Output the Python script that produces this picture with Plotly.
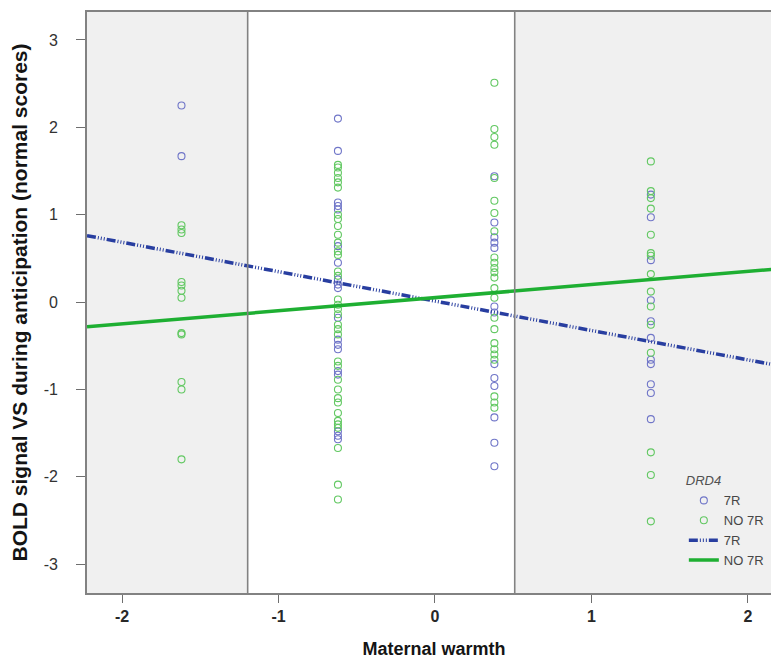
import plotly.graph_objects as go

# ---- data ----
x_levels = [-1.62, -0.62, 0.38, 1.38]

blue_col1 = [2.25, 1.67]
green_col1 = [0.88, 0.83, 0.79, 0.23, 0.19, 0.13, 0.05, -0.355, -0.37, -0.915, -1.0, -1.80]

blue_col2 = [2.10, 1.73, 1.14, 1.10, 1.06, 0.64, 0.45, 0.26, 0.20, 0.16, -0.18,
             -0.43, -0.49, -0.54, -0.79, -0.83, -1.48, -1.53, -1.57]
green_col2 = [1.57, 1.54, 1.48, 1.42, 1.37, 1.31, 1.0, 0.95, 0.87, 0.77, 0.68, 0.58, 0.54,
              0.35, 0.30, 0.03, -0.03, -0.08, -0.14, -0.26, -0.31, -0.37, -0.68, -0.73,
              -0.89, -1.0, -1.10, -1.15, -1.27, -1.36, -1.40, -1.44, -1.67, -2.09, -2.26]

blue_col3 = [1.44, 0.91, 0.74, 0.68, 0.62, -0.05, -0.12, -0.71, -0.87, -0.96, -1.32, -1.61, -1.88]
green_col3 = [2.51, 1.98, 1.89, 1.80, 1.42, 1.16, 1.02, 0.81, 0.51, 0.45, 0.39, 0.34, 0.28,
              0.16, 0.05, -0.18, -0.31, -0.47, -0.54, -0.60, -0.66, -1.08, -1.15, -1.21]

blue_col4 = [1.23, 0.97, 0.48, 0.02, -0.22, -0.41, -0.66, -0.71, -0.94, -1.04, -1.34]
green_col4 = [1.61, 1.27, 1.19, 1.07, 0.77, 0.56, 0.53, 0.32, 0.12, -0.05, -0.26, -0.58,
              -1.72, -1.98, -2.51]

line_x = [-2.224, 2.212]
blue_fit_y = [0.76, -0.733]
green_fit_y = [-0.283, 0.382]

cut_lines = [-1.197, 0.51]
x_range = [-2.224, 2.212]
y_range = [-3.33, 3.32]
x_ticks = [-2, -1, 0, 1, 2]
x_tick_labels = ["-2", "-1", "0", "1", "2"]
y_ticks = [-3, -2, -1, 0, 1, 2, 3]
y_tick_labels = ["-3", "-2", "-1", "0", "1", "2", "3"]

blue_cols = [blue_col1, blue_col2, blue_col3, blue_col4]
green_cols = [green_col1, green_col2, green_col3, green_col4]

bx, by, gx, gy = [], [], [], []
for xv, col in zip(x_levels, blue_cols):
    bx += [xv] * len(col)
    by += col
for xv, col in zip(x_levels, green_cols):
    gx += [xv] * len(col)
    gy += col

BLUE_PT = "rgb(112,118,200)"
GREEN_PT = "rgb(98,200,98)"
BLUE_LN = "rgb(40,62,160)"
GREEN_LN = "rgb(30,175,50)"

fig = go.Figure()
fig.add_trace(go.Scatter(x=bx, y=by, mode="markers", name="7R",
                         marker=dict(symbol="circle-open", size=7, color=BLUE_PT,
                                     line=dict(width=1.1, color=BLUE_PT))))
fig.add_trace(go.Scatter(x=gx, y=gy, mode="markers", name="NO 7R",
                         marker=dict(symbol="circle-open", size=7, color=GREEN_PT,
                                     line=dict(width=1.1, color=GREEN_PT))))
fig.add_trace(go.Scatter(x=line_x, y=blue_fit_y, mode="lines", name="7R",
                         line=dict(color=BLUE_LN, width=3.5,
                                   dash="9px,2px,1px,2px,1px,2px,1px,2px")))
fig.add_trace(go.Scatter(x=line_x, y=green_fit_y, mode="lines", name="NO 7R",
                         line=dict(color=GREEN_LN, width=3.5)))

shapes = [
    dict(type="rect", xref="x", yref="paper", x0=cut_lines[0], x1=cut_lines[1], y0=0, y1=1,
         fillcolor="white", line=dict(width=0), layer="below"),
]
for c in cut_lines:
    shapes.append(dict(type="line", xref="x", yref="paper", x0=c, x1=c, y0=0, y1=1,
                       line=dict(color="rgb(130,130,130)", width=1.6), layer="above"))

fig.update_layout(
    width=779, height=662,
    margin=dict(l=79, r=6, t=4, b=77, autoexpand=False),
    paper_bgcolor="white",
    plot_bgcolor="rgb(240,240,240)",
    shapes=shapes,
    showlegend=True,
    legend=dict(
        x=0.86, y=0.03, xanchor="left", yanchor="bottom",
        bgcolor="rgba(0,0,0,0)",
        font=dict(family="Liberation Sans, Arial, sans-serif",
                  size=13, color="rgb(70,70,70)"),
        title=dict(text="<i>DRD4</i>",
                   font=dict(family="Liberation Sans, Arial, sans-serif", size=13,
                             color="rgb(80,80,80)")),
        itemwidth=30, tracegroupgap=0,
    ),
    font=dict(family="Liberation Sans, Arial, sans-serif", color="rgb(40,40,40)"),
)

fig.update_xaxes(
    range=x_range, tickvals=x_ticks, ticktext=[f"<b>{t}</b>" for t in x_tick_labels],
    automargin=False,
    showgrid=False, zeroline=False,
    showline=True, mirror=True, linecolor="rgb(130,130,130)", linewidth=1.6,
    ticks="outside", ticklen=8, tickcolor="rgb(110,110,110)", tickwidth=1.2,
    tickfont=dict(family="Liberation Sans, Arial, sans-serif",
                  size=16, color="rgb(40,40,40)"),
    title=dict(text="<b>Maternal warmth</b>", standoff=18,
               font=dict(family="Liberation Sans, Arial, sans-serif",
                         size=18, color="rgb(20,20,20)")),
)
fig.update_yaxes(
    range=y_range, tickvals=y_ticks, ticktext=y_tick_labels, automargin=False,
    showgrid=False, zeroline=False,
    showline=True, mirror=True, linecolor="rgb(130,130,130)", linewidth=1.6,
    ticks="outside", ticklen=9, tickcolor="rgb(110,110,110)", tickwidth=1.2,
    ticklabelstandoff=15,
    tickfont=dict(family="Liberation Sans, Arial, sans-serif", size=16, color="rgb(50,50,50)"),
    title=dict(text="<b>BOLD signal VS during anticipation (normal scores)</b>", standoff=11,
               font=dict(family="Liberation Sans, Arial, sans-serif", size=21,
                         color="rgb(20,20,20)")),
)

fig.write_html("out.html")
